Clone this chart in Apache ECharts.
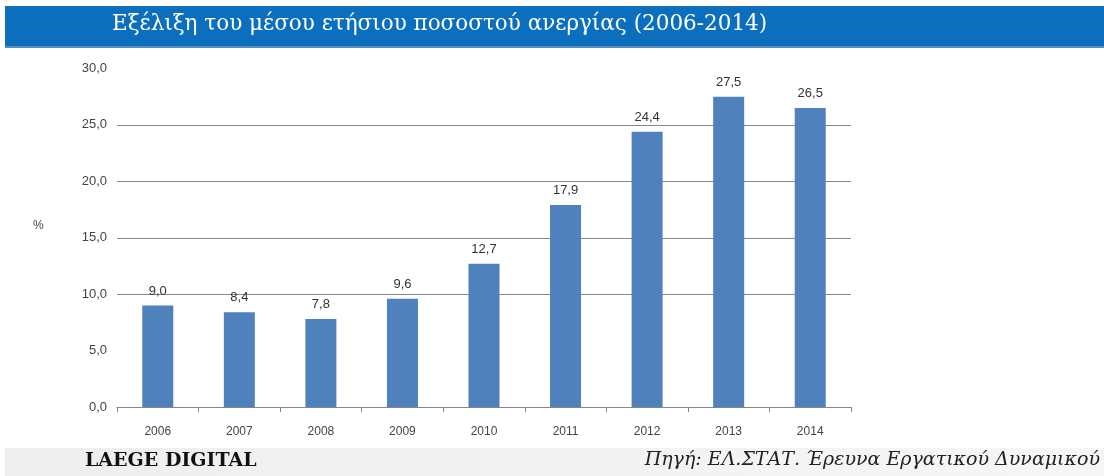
<!DOCTYPE html>
<html>
<head>
<meta charset="utf-8">
<script src="https://cdn.jsdelivr.net/npm/echarts@6/dist/echarts.min.js"></script>
<style>
  html, body { margin: 0; padding: 0; background: #ffffff; }
  #chart { width: 1104px; height: 476px; }
</style>
</head>
<body>
<div id="chart"></div>
<script>
// Average annual unemployment rate, Greece
const years = ['2006', '2007', '2008', '2009', '2010', '2011', '2012', '2013', '2014'];
const rates = [9.0, 8.4, 7.8, 9.6, 12.7, 17.9, 24.4, 27.5, 26.5];
const titleText = 'Εξέλιξη του μέσου ετήσιου ποσοστού ανεργίας (2006-2014)';
const brandText = 'LAEGE DIGITAL';
const sourceText = 'Πηγή: ΕΛ.ΣΤΑΤ. Έρευνα Εργατικού Δυναμικού';

const fmt = v => v.toFixed(1).replace('.', ',');

const chart = echarts.init(document.getElementById('chart'), null, { renderer: 'canvas' });

chart.setOption({
  backgroundColor: '#ffffff',
  animation: false,
  graphic: [
    // title band
    { type: 'rect', left: 5, top: 6, shape: { width: 1099, height: 41 }, style: { fill: '#0b6fbe' }, z: 1 },
    { type: 'rect', left: 5, top: 46, shape: { width: 1099, height: 2 }, style: { fill: '#5a8fc0' }, z: 1 },
    {
      type: 'text', left: 112, top: 13, z: 2,
      style: { text: titleText, fill: '#ffffff', font: '21.5px "DejaVu Serif", "Liberation Serif", serif' }
    },
    // footer band
    {
      type: 'rect', left: 5, top: 448, shape: { width: 1099, height: 28 }, z: 1,
      style: {
        fill: new echarts.graphic.LinearGradient(0, 0, 1, 0, [
          { offset: 0, color: '#eeeeee' }, { offset: 1, color: '#f6f6f6' }
        ])
      }
    },
    {
      type: 'text', left: 85, top: 452, z: 2,
      style: { text: brandText, fill: '#111111', font: 'bold 19px "DejaVu Serif", "Liberation Serif", serif' }
    },
    {
      type: 'text', right: 4, top: 451, z: 2,
      style: { text: sourceText, fill: '#222222', font: 'italic 19px "DejaVu Serif", "Liberation Serif", serif' }
    },
    // y axis unit
    {
      type: 'text', left: 33, top: 220, z: 2,
      style: { text: '%', fill: '#444444', font: '12px "Liberation Sans", sans-serif' }
    }
  ],
  grid: { left: 117, right: 253, top: 68.5, bottom: 69, containLabel: false },
  xAxis: {
    type: 'category',
    data: years,
    axisLine: { show: true, lineStyle: { color: '#868686', width: 1 } },
    axisTick: { show: true, length: 5, lineStyle: { color: '#868686' } },
    axisLabel: { color: '#444444', fontSize: 12, fontFamily: 'Liberation Sans', margin: 19 }
  },
  yAxis: {
    type: 'value',
    min: 0, max: 30, interval: 5,
    axisLine: { show: false },
    axisTick: { show: false },
    axisLabel: {
      color: '#444444', fontSize: 13, fontFamily: 'Liberation Sans', margin: 10,
      formatter: v => fmt(v)
    },
    splitLine: {
      show: true,
      lineStyle: {
        width: 1,
        color: ['#868686', 'rgba(0,0,0,0)', '#868686', '#868686', '#868686', '#868686', 'rgba(0,0,0,0)']
      }
    }
  },
  series: [{
    type: 'bar',
    data: rates,
    barWidth: 31,
    itemStyle: { color: '#4f81bd' },
    label: {
      show: true, position: 'top', distance: 8,
      color: '#333333', fontSize: 13, fontFamily: 'Liberation Sans',
      formatter: p => fmt(p.value)
    }
  }]
});
</script>
</body>
</html>
